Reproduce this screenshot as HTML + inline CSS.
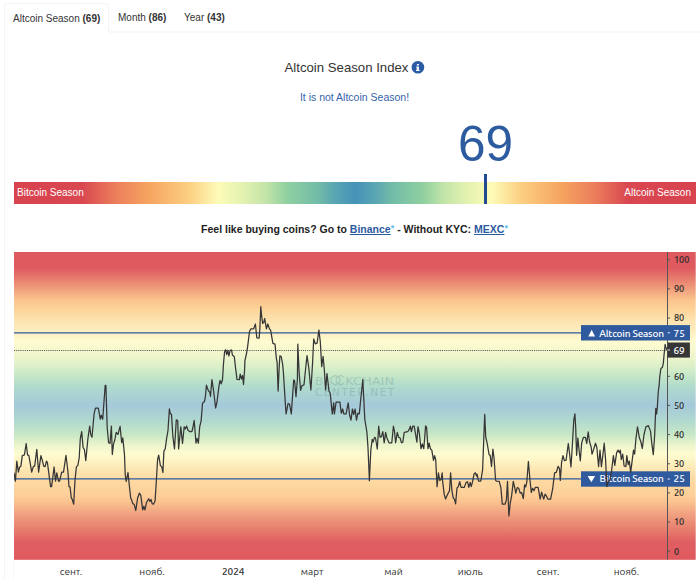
<!DOCTYPE html>
<html><head><meta charset="utf-8">
<style>
*{box-sizing:border-box;margin:0;padding:0}
html,body{width:700px;height:579px;overflow:hidden;background:#fff}
body{position:relative;font-family:"Liberation Sans",Arial,sans-serif;color:#333}
.navline{position:absolute;left:109px;top:31px;width:600px;height:2px;background:#f8f8f8}
.tab{position:absolute;top:3px;height:29px;font-size:10px;line-height:12px;padding:8.5px 8px 0 8px;white-space:nowrap;color:#333}
.tab b{font-weight:bold}
.tab.active{left:4px;width:105px;border:1px solid #f4f4f4;border-bottom:none;border-radius:3px 3px 0 0;background:#fff;padding-left:8px}
.t2{left:110px}
.t3{left:176px}
.lborder{position:absolute;left:4px;top:32px;width:1px;height:560px;background:#f4f4f4}
.title{position:absolute;left:284.5px;top:60px;font-size:13.2px;line-height:15px;color:#333;white-space:nowrap}
.info{display:inline-block;width:12.5px;height:12.5px;border-radius:50%;background:#2f5ea6;vertical-align:-1px;margin-left:3px;position:relative}
.sub{position:absolute;left:0;width:709px;top:91px;text-align:center;font-size:10.5px;line-height:12px;color:#3764a8}
.big{position:absolute;left:455.5px;top:115.7px;width:60px;text-align:center;font-size:49.5px;line-height:56px;color:#2d5b9f}
.bar{position:absolute;left:14px;top:181.9px;width:682px;height:21.7px;
background:linear-gradient(to right,#d7434f 0%,#d94750 10%,#ec7f5c 15%,#f6a660 20%,#fccf82 25.7%,#fdfbb8 30%,#e4f2b0 33.5%,#c2e4a8 37%,#90d0a0 40%,#72bca8 44.5%,#5aa6b2 47%,#4592b9 50%,#5aa6b2 53%,#72bca8 55.5%,#90d0a0 60%,#c2e4a8 63%,#e4f2b0 66.5%,#fdfbb8 70%,#fccf82 74.3%,#f6a660 80%,#ec7f5c 85%,#d94750 90%,#d7434f 100%);
font-size:10px;color:#fff;line-height:21.5px}
.bar .l{position:absolute;left:3px;top:-0.3px}
.bar .r{position:absolute;right:5px;top:-0.3px}
.marker{position:absolute;left:484px;top:174px;width:2.6px;height:29.8px;background:#224a90}
.bin{position:absolute;left:0;width:709px;top:222.8px;text-align:center;font-size:10.5px;line-height:12px;font-weight:bold;color:#222}
.bin a{color:#2c5a9e;text-decoration:underline}
.bin sup{font-size:9px;color:#5bc0ea;font-weight:bold;vertical-align:2px;line-height:0}
svg{position:absolute;left:0;top:0}
</style></head><body>
<div class="navline"></div>
<div class="tab active">Altcoin Season <b>(69)</b></div>
<div class="tab t2">Month <b>(86)</b></div>
<div class="tab t3">Year <b>(43)</b></div>
<div class="lborder"></div>
<div class="title">Altcoin Season Index</div>
<div class="sub">It is not Altcoin Season!</div>
<div class="big">69</div>
<div class="bar"><span class="l">Bitcoin Season</span><span class="r">Altcoin Season</span></div>
<div class="marker"></div>
<div class="bin">Feel like buying coins? Go to <a>Binance</a><sup>*</sup> - Without KYC: <a>MEXC</a><sup>*</sup></div>
<svg width="700" height="579" viewBox="0 0 700 579">
<defs>
<linearGradient id="vg" gradientUnits="userSpaceOnUse" x1="0" y1="252" x2="0" y2="559.5"><stop offset="0.0000" stop-color="#df5a5f"/><stop offset="0.0520" stop-color="#df5a5f"/><stop offset="0.0911" stop-color="#e8806f"/><stop offset="0.1268" stop-color="#f2a57f"/><stop offset="0.1561" stop-color="#fcc38d"/><stop offset="0.1886" stop-color="#fdd49b"/><stop offset="0.2244" stop-color="#fde4b0"/><stop offset="0.2537" stop-color="#fdecbc"/><stop offset="0.2911" stop-color="#fefbd0"/><stop offset="0.3415" stop-color="#eef5cc"/><stop offset="0.3756" stop-color="#d8efc8"/><stop offset="0.4098" stop-color="#c0e4c8"/><stop offset="0.4390" stop-color="#b0dacd"/><stop offset="0.4992" stop-color="#a5c9da"/><stop offset="0.5463" stop-color="#b0d8d0"/><stop offset="0.5951" stop-color="#c8e8c6"/><stop offset="0.6299" stop-color="#eef5cc"/><stop offset="0.6569" stop-color="#fefcd0"/><stop offset="0.6797" stop-color="#fdf3c3"/><stop offset="0.6976" stop-color="#fdebb9"/><stop offset="0.7154" stop-color="#fde3ae"/><stop offset="0.7415" stop-color="#fddaa2"/><stop offset="0.7870" stop-color="#fdd09a"/><stop offset="0.8098" stop-color="#fbc591"/><stop offset="0.8537" stop-color="#f0a080"/><stop offset="0.8989" stop-color="#e8806f"/><stop offset="0.9431" stop-color="#e05e62"/><stop offset="1.0000" stop-color="#df5a5f"/></linearGradient>
<clipPath id="cp"><rect x="14" y="252" width="653.3" height="308"/></clipPath>
</defs>
<circle cx="417.9" cy="67.3" r="6.3" fill="#2b5ca6"/><path d="M416.9 63.9h2v1.7h-2z M416.2 66.4h2.7v3.6h0.7v1.1h-3.6v-1.1h0.7v-2.5h-0.5z" fill="#fff"/>
<rect x="14" y="252" width="681.7" height="307.8" fill="url(#vg)"/><line x1="13.5" y1="559.8" x2="13.5" y2="579" stroke="#f6f6f6"/><line x1="14" y1="249.3" x2="696" y2="249.3" stroke="#fafafa"/>
<g opacity="0.2" fill="#3c6670" font-family="DejaVu Sans, sans-serif" font-size="10.6">
<text x="315" y="384.6" textLength="15" lengthAdjust="spacingAndGlyphs">BL</text>
<text x="345.3" y="384.6" textLength="48.8" lengthAdjust="spacingAndGlyphs">KCHAIN</text>
<text x="315" y="395.8" textLength="79.2" lengthAdjust="spacing">CENTER.NET</text>
<path d="M335.4 375.4L339.7 377.8V382.6L335.4 385L331.1 382.6V377.8Z M344.2 377.2L340.6 375.4L336.3 377.8V382.6L340.6 385L344.2 383.2" fill="none" stroke="#3c6670" stroke-width="1.2"/>
</g>
<line x1="14" y1="332.8" x2="582" y2="332.8" stroke="#2c5a9e" stroke-width="1.2"/>
<line x1="14" y1="478.8" x2="582" y2="478.8" stroke="#2c5a9e" stroke-width="1.2"/>
<line x1="14" y1="350.5" x2="667" y2="350.5" stroke="#555" stroke-width="1" stroke-dasharray="1.07 1.07"/>
<line x1="667.5" y1="252" x2="667.5" y2="559.5" stroke="#555" stroke-width="1"/>
<g stroke="#555" stroke-width="1"><line x1="667.5" y1="259.7" x2="670" y2="259.7"/><line x1="667.5" y1="288.8" x2="670" y2="288.8"/><line x1="667.5" y1="318.0" x2="670" y2="318.0"/><line x1="667.5" y1="376.3" x2="670" y2="376.3"/><line x1="667.5" y1="405.4" x2="670" y2="405.4"/><line x1="667.5" y1="434.6" x2="670" y2="434.6"/><line x1="667.5" y1="463.8" x2="670" y2="463.8"/><line x1="667.5" y1="492.9" x2="670" y2="492.9"/><line x1="667.5" y1="522.0" x2="670" y2="522.0"/><line x1="667.5" y1="551.2" x2="670" y2="551.2"/></g>
<g font-family="Ubuntu, DejaVu Sans, sans-serif" font-size="9.2" fill="#2a2a2a" font-weight="500"><text x="673.9" y="263.1" textLength="15.55" lengthAdjust="spacingAndGlyphs">100</text><text x="673.9" y="292.2" textLength="10.38" lengthAdjust="spacingAndGlyphs">90</text><text x="673.9" y="321.4" textLength="10.38" lengthAdjust="spacingAndGlyphs">80</text><text x="673.9" y="379.7" textLength="10.38" lengthAdjust="spacingAndGlyphs">60</text><text x="673.9" y="408.8" textLength="10.38" lengthAdjust="spacingAndGlyphs">50</text><text x="673.9" y="438.0" textLength="10.38" lengthAdjust="spacingAndGlyphs">40</text><text x="673.9" y="467.1" textLength="10.38" lengthAdjust="spacingAndGlyphs">30</text><text x="673.9" y="496.3" textLength="10.38" lengthAdjust="spacingAndGlyphs">20</text><text x="673.9" y="525.4" textLength="10.38" lengthAdjust="spacingAndGlyphs">10</text><text x="673.9" y="554.6" textLength="5.19" lengthAdjust="spacingAndGlyphs">0</text></g>
<rect x="581" y="325.1" width="109" height="15.4" fill="#2f5a9e"/>
<rect x="581" y="471.3" width="109" height="15.4" fill="#2f5a9e"/>
<rect x="667.5" y="342.5" width="22.4" height="15.1" fill="#363636"/>
<polygon points="588.3,336.6 595.1,336.6 591.7,329.7" fill="#fff"/>
<polygon points="587.6,475.9 595.1,475.9 591.35,482.3" fill="#fff"/>
<g stroke="#dfe6f0" stroke-width="1"><line x1="667.5" y1="332.8" x2="670" y2="332.8"/><line x1="667.5" y1="479" x2="670" y2="479"/><line x1="667.5" y1="350" x2="670" y2="350"/></g>
<g font-family="Ubuntu, DejaVu Sans, sans-serif" font-size="10" fill="#fff" font-weight="500" letter-spacing="-0.2">
<text x="599.2" y="336.5" textLength="64.53" lengthAdjust="spacingAndGlyphs">Altcoin Season</text>
<text x="599.6" y="482.3" textLength="64.06" lengthAdjust="spacingAndGlyphs">Bitcoin Season</text>
</g><g font-family="Ubuntu, DejaVu Sans, sans-serif" font-size="10" fill="#fff" font-weight="500">
<text x="673.6" y="336.5" textLength="11.28" lengthAdjust="spacingAndGlyphs">75</text>
<text x="673.6" y="482.3" textLength="11.28" lengthAdjust="spacingAndGlyphs">25</text>
<text x="673.4" y="354" textLength="11.28" lengthAdjust="spacingAndGlyphs">69</text>
</g>
<path clip-path="url(#cp)" d="M14.0 472.8 L15.4 481.1 L16.8 461.1 L18.4 472.1 L19.5 467.3 L20.9 466.2 L22.3 455.6 L24.4 454.9 L26.2 443.5 L27.5 454.9 L28.9 455.6 L31.7 472.1 L33.3 466.6 L34.7 465.9 L36.8 449.3 L38.6 472.1 L40.9 455.6 L42.3 460.4 L43.7 466.2 L45.1 466.6 L46.5 461.1 L47.4 462.5 L50.6 486.6 L51.6 486.6 L54.1 467.0 L55.5 481.1 L56.8 472.8 L58.5 481.1 L59.6 481.1 L61.7 472.1 L63.5 472.1 L66.0 455.3 L67.9 471.5 L69.0 486.6 L70.0 486.9 L71.3 497.7 L72.2 499.4 L73.7 504.2 L75.0 480.1 L76.4 466.9 L77.8 465.6 L79.2 458.0 L80.3 438.6 L81.7 431.6 L83.1 447.5 L84.4 449.6 L85.8 460.7 L87.9 438.6 L89.7 426.1 L90.7 434.4 L92.0 437.2 L94.1 413.7 L95.5 408.2 L98.3 408.2 L100.3 419.2 L101.3 415.1 L102.7 419.2 L105.2 385.4 L105.9 385.4 L107.2 427.5 L108.6 442.7 L110.0 443.4 L111.4 426.1 L112.3 454.5 L113.5 444.1 L114.8 440.0 L116.2 432.3 L117.9 434.4 L120.1 426.4 L121.7 442.7 L122.8 437.9 L124.5 455.0 L125.2 474.5 L126.2 481.5 L128.0 472.5 L128.9 481.5 L130.7 498.0 L131.4 499.4 L132.8 503.6 L134.1 504.2 L135.8 510.5 L137.6 498.0 L139.4 493.2 L140.8 495.3 L142.7 509.8 L143.8 506.3 L144.9 509.8 L146.6 502.2 L148.7 498.7 L150.0 501.5 L151.0 499.4 L152.1 503.6 L153.5 504.2 L155.1 500.8 L156.3 481.5 L157.6 459.3 L158.7 455.2 L160.4 465.6 L161.8 466.9 L162.9 472.5 L163.9 451.1 L165.2 449.0 L166.6 438.6 L168.0 430.3 L169.4 408.9 L170.3 413.7 L171.5 414.4 L172.8 435.8 L174.5 448.9 L176.3 419.9 L177.7 420.6 L178.6 448.9 L180.8 426.8 L182.5 443.4 L184.2 426.8 L185.3 428.9 L186.6 426.1 L188.0 430.3 L189.7 431.5 L191.9 431.5 L192.8 428.0 L194.2 420.4 L196.0 443.2 L197.0 438.4 L198.4 443.2 L199.7 426.6 L201.1 421.1 L202.5 403.2 L204.3 401.8 L205.3 397.6 L206.4 385.2 L208.4 390.7 L209.8 392.1 L210.5 396.3 L211.9 379.7 L213.6 390.7 L215.6 408.0 L217.0 401.8 L219.1 385.2 L220.1 380.4 L221.2 383.8 L222.5 379.7 L223.6 362.2 L224.6 351.8 L225.6 349.7 L226.7 354.6 L227.8 350.4 L228.9 356.0 L230.1 350.4 L231.5 350.0 L232.5 355.3 L234.3 356.6 L235.7 369.1 L237.0 379.4 L239.4 379.7 L240.2 374.1 L241.6 379.0 L242.6 375.5 L243.5 384.5 L244.6 370.0 L244.9 360.8 L246.7 352.5 L247.7 346.1 L249.5 331.6 L250.8 328.9 L253.6 328.9 L255.4 324.0 L256.8 337.8 L259.1 338.1 L259.8 329.5 L260.8 306.7 L261.6 315.7 L262.6 323.3 L263.7 322.6 L264.7 318.5 L266.4 328.9 L267.8 324.0 L269.5 328.9 L270.6 330.2 L272.9 343.4 L275.0 344.1 L276.4 358.6 L277.1 362.0 L278.1 391.1 L279.2 366.9 L279.9 355.8 L281.2 356.5 L282.6 364.1 L283.3 371.1 L285.4 404.2 L286.1 413.9 L288.1 403.5 L289.5 404.0 L291.3 413.9 L293.7 380.0 L294.6 380.7 L296.0 396.6 L297.4 379.3 L297.8 344.1 L299.2 373.8 L300.6 390.4 L302.0 385.6 L304.0 384.8 L305.7 368.0 L307.0 355.6 L308.8 368.0 L310.9 390.0 L312.6 362.5 L313.7 339.0 L315.3 343.9 L317.1 343.2 L318.9 330.0 L320.3 341.8 L321.7 366.6 L323.1 356.3 L324.4 370.8 L325.6 390.0 L327.0 373.6 L328.9 390.4 L330.3 393.8 L331.6 407.6 L332.3 413.9 L333.7 402.8 L334.4 413.9 L336.1 402.1 L339.9 402.1 L341.3 413.2 L342.7 409.0 L343.8 413.9 L346.1 413.9 L348.2 402.8 L349.6 415.2 L351.0 420.1 L352.4 409.0 L353.7 414.5 L355.1 409.0 L356.5 420.1 L357.9 413.2 L359.3 413.9 L360.6 400.7 L362.8 379.5 L364.8 419.4 L366.9 432.0 L368.0 447.6 L369.4 480.8 L370.8 450.4 L372.2 439.3 L373.1 442.1 L374.5 437.3 L375.5 438.0 L377.3 449.0 L378.7 426.2 L380.0 437.3 L381.4 436.6 L382.8 431.7 L384.2 442.8 L385.6 432.4 L386.9 438.0 L389.0 442.8 L391.8 442.8 L393.4 426.2 L394.5 431.1 L395.6 442.8 L397.3 432.4 L398.7 437.3 L400.1 438.0 L401.5 442.8 L402.8 442.1 L404.2 432.4 L407.7 431.7 L409.1 429.7 L410.4 426.2 L411.4 431.7 L412.8 426.2 L414.2 426.2 L415.5 433.8 L416.9 442.1 L418.0 426.6 L419.4 433.5 L421.0 448.7 L422.4 443.9 L423.8 448.7 L425.6 425.9 L426.6 427.3 L428.0 448.7 L429.1 443.2 L430.4 448.7 L431.8 450.1 L433.5 460.4 L434.6 455.6 L435.7 459.7 L437.1 486.7 L438.4 472.9 L439.8 480.5 L441.2 479.1 L442.2 472.9 L442.6 481.1 L444.3 494.9 L445.6 499.0 L447.0 495.6 L448.4 492.8 L449.5 490.7 L450.6 472.8 L451.9 490.7 L453.2 497.6 L454.6 499.7 L455.6 503.9 L457.0 488.0 L458.3 486.6 L459.7 481.7 L461.1 487.3 L464.3 487.3 L466.1 482.4 L467.5 481.7 L468.8 487.3 L470.2 482.4 L471.2 486.6 L472.6 481.7 L474.0 474.1 L475.3 472.8 L476.7 476.2 L477.1 474.1 L478.5 481.0 L480.8 481.0 L482.6 469.9 L484.7 414.4 L485.7 436.8 L487.1 443.0 L489.1 454.7 L490.2 455.4 L491.5 466.5 L492.9 449.2 L494.0 457.5 L495.6 480.3 L496.4 481.2 L499.2 481.4 L500.9 487.6 L502.3 504.2 L505.0 504.2 L506.4 500.1 L507.5 481.4 L508.9 516.0 L510.3 502.8 L511.6 495.9 L513.3 481.4 L514.7 487.6 L515.8 493.2 L517.2 487.6 L518.8 488.3 L520.2 493.2 L521.6 492.5 L523.3 498.7 L524.6 484.9 L525.7 486.9 L526.8 482.1 L528.4 461.5 L529.9 479.3 L531.3 492.5 L532.6 488.3 L534.0 490.6 L535.4 487.3 L538.1 487.3 L540.2 499.1 L541.6 492.1 L543.7 499.1 L545.1 494.2 L546.2 495.6 L547.8 499.1 L550.6 499.1 L552.7 488.7 L554.0 477.6 L554.7 472.6 L556.3 472.3 L558.2 466.3 L559.6 469.1 L560.3 480.5 L561.6 462.3 L563.0 455.7 L564.4 460.6 L566.1 460.1 L568.3 443.5 L569.6 453.9 L571.0 467.0 L572.4 444.2 L573.8 420.0 L574.9 413.8 L575.7 427.6 L576.6 455.3 L577.9 438.0 L579.3 452.5 L580.3 460.8 L581.7 442.8 L583.5 437.3 L585.4 437.3 L586.8 443.5 L588.2 431.8 L589.5 441.5 L591.3 447.7 L592.0 454.2 L593.4 450.1 L595.5 443.2 L596.8 447.3 L598.6 466.6 L600.0 450.1 L601.4 466.6 L602.8 455.6 L604.2 443.2 L605.5 458.4 L606.9 486.7 L608.3 481.8 L610.0 479.8 L611.6 470.8 L613.4 455.6 L614.8 465.3 L616.6 452.8 L618.0 450.1 L619.4 452.8 L620.3 450.1 L621.3 459.7 L622.7 454.2 L624.1 466.0 L625.9 466.6 L626.8 455.6 L628.2 464.6 L629.3 461.1 L630.7 472.2 L632.1 461.1 L633.5 450.1 L634.6 454.2 L635.9 439.0 L637.5 426.8 L639.3 437.5 L640.8 441.5 L642.3 448.5 L644.0 434.5 L645.9 426.9 L648.4 425.6 L650.5 431.1 L651.9 444.2 L653.3 454.6 L654.7 434.5 L655.5 414.0 L655.8 408.3 L656.6 414.0 L657.3 407.5 L658.3 391.5 L659.1 385.7 L659.8 376.1 L660.9 368.5 L662.3 367.5 L663.3 363.6 L664.0 355.3 L664.7 349.1 L665.1 344.3 L665.6 346.4 L666.9 350.3" fill="none" stroke="#363636" stroke-width="1.25" stroke-linejoin="round"/>
<g font-family="Ubuntu, DejaVu Sans, sans-serif" font-size="10" fill="#2e2e2e" font-weight="400"><text x="71.0" y="574.6" text-anchor="middle" textLength="22.52" lengthAdjust="spacingAndGlyphs">сент.</text><text x="152.0" y="574.6" text-anchor="middle" textLength="25.31" lengthAdjust="spacingAndGlyphs">нояб.</text><text x="233.2" y="574.6" text-anchor="middle" font-weight="500" textLength="22.56" lengthAdjust="spacingAndGlyphs">2024</text><text x="312.2" y="574.6" text-anchor="middle" textLength="22.7" lengthAdjust="spacingAndGlyphs">март</text><text x="393.5" y="574.6" text-anchor="middle" textLength="18.34" lengthAdjust="spacingAndGlyphs">май</text><text x="470.3" y="574.6" text-anchor="middle" textLength="24.88" lengthAdjust="spacingAndGlyphs">июль</text><text x="548.1" y="574.6" text-anchor="middle" textLength="22.52" lengthAdjust="spacingAndGlyphs">сент.</text><text x="626.4" y="574.6" text-anchor="middle" textLength="25.31" lengthAdjust="spacingAndGlyphs">нояб.</text></g>
</svg>
</body></html>
